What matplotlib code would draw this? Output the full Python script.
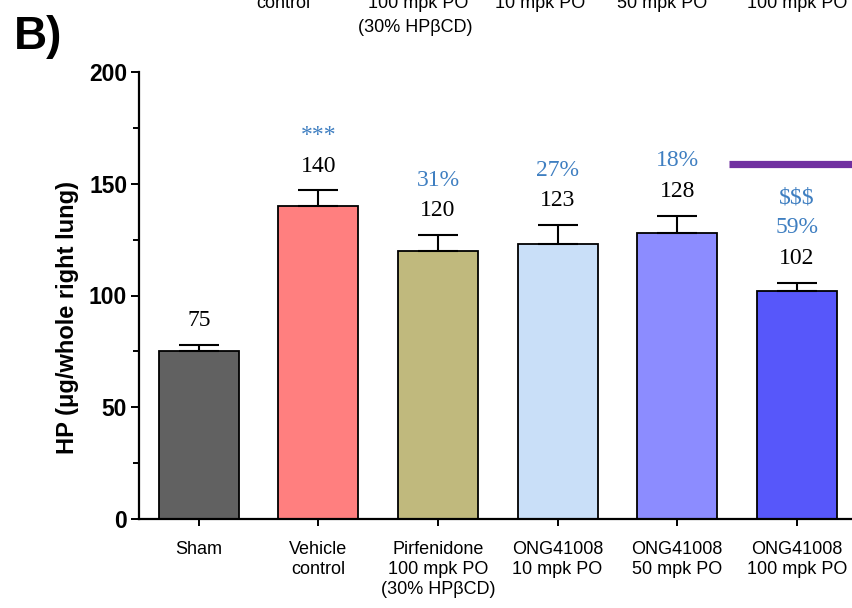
import matplotlib
matplotlib.use("Agg")
import matplotlib.pyplot as plt
import numpy as np
from matplotlib.ticker import MultipleLocator

# data
groups = [
    "Sham",
    "Vehicle\ncontrol",
    "Pirfenidone\n100 mpk PO\n(30% HPβCD)",
    "ONG41008\n10 mpk PO",
    "ONG41008\n50 mpk PO",
    "ONG41008\n100 mpk PO",
]
means = [75, 140, 120, 123, 128, 102]
errors = [3.0, 7.0, 7.0, 8.5, 7.7, 3.7]
value_labels = ["75", "140", "120", "123", "128", "102"]
# blue annotations stacked above the value (bottom first)
blue_labels = [[], ["***"], ["31%"], ["27%"], ["18%"], ["59%", "$$$"]]
bar_colors = ["#616161", "#ff7f7f", "#c0b97d", "#c9dff8", "#8c8cff", "#5757fa"]

# cropped labels of the panel above
top_labels = ["control", "100 mpk PO", "10 mpk PO", "50 mpk PO", "100 mpk PO"]
top_label_x_px = [283, 418, 540, 662, 797]

sans = "Liberation Sans"
serif = "Liberation Serif"
blue = "#3f7fc1"

W, H = 853, 608
fig = plt.figure(figsize=(W / 100, H / 100), dpi=100)
ax = fig.add_axes([139 / W, (H - 519) / H, 717.6 / W, 447 / H])

x = np.arange(len(groups))
ax.bar(x, means, width=0.67, color=bar_colors, edgecolor="black", linewidth=1.3, zorder=2)
ax.errorbar(
    x, means, yerr=[np.zeros(len(errors)), errors], fmt="none",
    ecolor="black", elinewidth=1.5, capsize=14.5, capthick=1.5, zorder=3,
)

for i in range(len(groups)):
    top = means[i] + errors[i]
    ax.annotate(value_labels[i], (x[i], top), xytext=(0, 17.5), textcoords="offset points",
                ha="center", va="center", fontsize=17, family=serif, color="black")
    for j, lab in enumerate(blue_labels[i]):
        ax.annotate(lab, (x[i], top), xytext=(0, 39.5 + 21.6 * j), textcoords="offset points",
                    ha="center", va="center", fontsize=17, family=serif, color=blue)

# purple significance bar over the last group
ax.plot([4.43, 5.6], [159, 159], color="#7030a0", lw=5.2, solid_capstyle="butt",
        clip_on=False, zorder=4)

ax.set_xlim(-0.5, 5.5)
ax.set_ylim(0, 200)
ax.spines["top"].set_visible(False)
ax.spines["right"].set_visible(False)
ax.spines["left"].set_linewidth(1.6)
ax.spines["bottom"].set_linewidth(1.6)

ax.yaxis.set_major_locator(MultipleLocator(50))
ax.yaxis.set_minor_locator(MultipleLocator(25))
ax.tick_params(axis="y", which="major", length=5.5, width=1.4, pad=3)
ax.tick_params(axis="y", which="minor", length=4, width=1.4)
ax.tick_params(axis="x", length=5, width=1.4, pad=11)
for lab in ax.get_yticklabels():
    lab.set_fontfamily(sans)
    lab.set_fontweight("bold")
    lab.set_fontsize(16.5)

ax.set_xticks(x)
ax.set_xticklabels(groups, fontsize=13, family=sans, linespacing=1.22)

fig.text(68 / W, (H - 317) / H, "HP (μg/whole right lung)", rotation=90,
         ha="center", va="center", fontsize=17, fontweight="bold", family=sans)

fig.text(14 / W, (H - 37) / H, "B)", ha="left", va="center", fontsize=33,
         fontweight="bold", family=sans)

for lab, px in zip(top_labels, top_label_x_px):
    fig.text(px / W, (H - 3) / H, lab, ha="center", va="center", fontsize=13, family=sans)
fig.text(415 / W, (H - 27) / H, "(30% HPβCD)", ha="center", va="center", fontsize=13,
         family=sans)

fig.savefig("out.png", dpi=100)
